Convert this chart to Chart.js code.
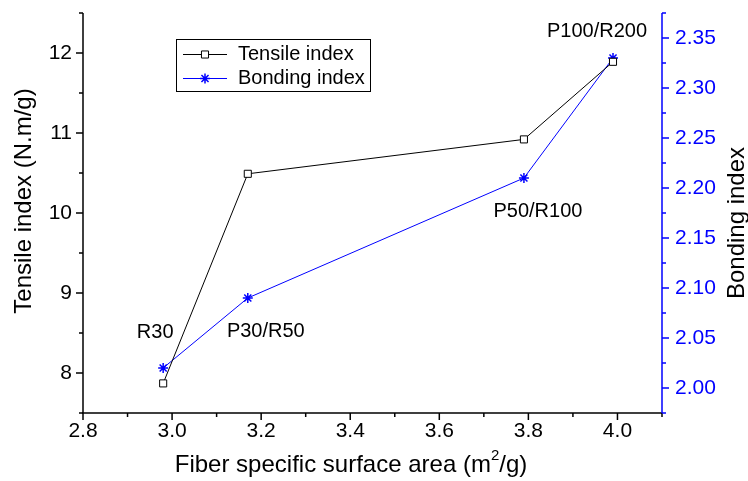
<!DOCTYPE html>
<html><head><meta charset="utf-8">
<script src="https://cdn.jsdelivr.net/npm/chart.js@4"></script>
<style>html,body{margin:0;padding:0;background:#fff}</style>
</head><body>
<canvas id="c" width="748" height="481"></canvas>
<script>
// ---- data ----
const surfaceArea   = [2.98, 3.17, 3.79, 3.99];
const tensileIndex  = [7.87, 10.49, 10.92, 11.89];
const bondingIndex  = [2.02, 2.09, 2.21, 2.33];
const pointLabels   = ['R30', 'P30/R50', 'P50/R100', 'P100/R200'];
const seriesNames   = ['Tensile index', 'Bonding index'];
const xTickLabels     = ['2.8', '3.0', '3.2', '3.4', '3.6', '3.8', '4.0'];
const leftTickLabels  = ['8', '9', '10', '11', '12'];
const rightTickLabels = ['2.00', '2.05', '2.10', '2.15', '2.20', '2.25', '2.30', '2.35'];
const xTitle = ['Fiber specific surface area (m', '2', '/g)'];
const leftTitle = 'Tensile index (N.m/g)';
const rightTitle = 'Bonding index';

// ---- styling (not data) ----
const FONT = "'Liberation Sans', Arial, sans-serif";
const BLUE = '#0000ff';
const labelOffsets = [   // [dataset, dx, dy] relative to a point
  [1, -8, -36], [1, 18, 33], [1, 14, 33], [0, -16, -30]
];

function setTicks(labels) {
  return function (scale) {
    scale.ticks = labels.map(l => ({ value: parseFloat(l) }));
  };
}
function fitter(prop, size) {
  return function (s) {
    s[prop] = size;
    s.paddingTop = 0; s.paddingBottom = 0; s.paddingLeft = 0; s.paddingRight = 0;
  };
}

const decor = {
  id: 'decor',
  afterDraw(chart) {
    const ctx = chart.ctx;
    const a = chart.chartArea;
    const sx = chart.scales.x, sy = chart.scales.y, sy1 = chart.scales.y1;
    const MAJ = 7, MIN = 4;
    ctx.save();
    ctx.lineWidth = 1.5;
    ctx.strokeStyle = '#000';
    ctx.beginPath();
    ctx.moveTo(a.left, a.top); ctx.lineTo(a.left, a.bottom);
    ctx.moveTo(a.left - 1, a.bottom); ctx.lineTo(a.right, a.bottom);
    ctx.stroke();
    const drawTicksV = (scale, labels, x, dir) => {
      const vals = labels.map(parseFloat);
      const step = vals[1] - vals[0];
      ctx.beginPath();
      vals.forEach(v => {
        const p = scale.getPixelForValue(v);
        ctx.moveTo(x, p); ctx.lineTo(x + dir * MAJ, p);
      });
      const minors = [vals[0] - step / 2].concat(vals.map(v => v + step / 2));
      minors.forEach(v => {
        const p = scale.getPixelForValue(v);
        ctx.moveTo(x, p); ctx.lineTo(x + dir * MIN, p);
      });
      ctx.stroke();
    };
    drawTicksV(sy, leftTickLabels, a.left, -1);
    {
      const vals = xTickLabels.map(parseFloat);
      const step = vals[1] - vals[0];
      ctx.beginPath();
      vals.forEach(v => {
        const p = sx.getPixelForValue(v);
        ctx.moveTo(p, a.bottom); ctx.lineTo(p, a.bottom + MAJ);
      });
      vals.map(v => v + step / 2).forEach(v => {
        const p = sx.getPixelForValue(v);
        ctx.moveTo(p, a.bottom); ctx.lineTo(p, a.bottom + MIN);
      });
      ctx.stroke();
    }
    ctx.strokeStyle = BLUE;
    ctx.beginPath();
    ctx.moveTo(a.right, a.top); ctx.lineTo(a.right, a.bottom);
    ctx.stroke();
    drawTicksV(sy1, rightTickLabels, a.right, 1);

    // titles
    const TF = '24px ' + FONT, SF = '15px ' + FONT;
    ctx.fillStyle = '#000';
    ctx.textBaseline = 'middle';
    ctx.textAlign = 'left';
    ctx.font = TF;
    const w0 = ctx.measureText(xTitle[0]).width;
    const w2 = ctx.measureText(xTitle[2]).width;
    ctx.font = SF;
    const w1 = ctx.measureText(xTitle[1]).width;
    const tx = 351 - (w0 + w1 + w2) / 2;
    const ty = 465;
    ctx.font = TF;
    ctx.fillText(xTitle[0], tx, ty);
    ctx.fillText(xTitle[2], tx + w0 + w1, ty);
    ctx.font = SF;
    ctx.fillText(xTitle[1], tx + w0, ty - 9);

    ctx.font = TF;
    ctx.textAlign = 'center';
    ctx.save();
    ctx.translate(24, 201); ctx.rotate(-Math.PI / 2);
    ctx.fillText(leftTitle, 0, 0);
    ctx.restore();
    ctx.save();
    ctx.translate(737, 223); ctx.rotate(-Math.PI / 2);
    ctx.fillText(rightTitle, 0, 0);
    ctx.restore();

    // point annotations
    ctx.font = '20px ' + FONT;
    labelOffsets.forEach(([ds, dx, dy], i) => {
      const el = chart.getDatasetMeta(ds).data[i];
      ctx.fillText(pointLabels[i], el.x + dx, el.y + dy);
    });

    // legend
    ctx.lineWidth = 1;
    ctx.strokeStyle = '#000';
    ctx.strokeRect(176.5, 39.5, 194, 52);
    ctx.font = '20px ' + FONT;
    ctx.textAlign = 'left';
    const rows = [54, 78];
    chart.data.datasets.forEach((d, i) => {
      const y = rows[i];
      ctx.strokeStyle = d.borderColor;
      ctx.lineWidth = 1;
      ctx.beginPath(); ctx.moveTo(183, y + 0.5); ctx.lineTo(227, y + 0.5); ctx.stroke();
      ctx.fillStyle = d.pointBackgroundColor;
      ctx.strokeStyle = d.pointBorderColor;
      ctx.lineWidth = d.pointBorderWidth;
      Chart.helpers.drawPoint(ctx, {
        pointStyle: d.pointStyle, radius: d.pointRadius, rotation: 0,
        borderWidth: d.pointBorderWidth
      }, 205, y + 0.5);
      ctx.fillStyle = '#000';
      ctx.fillText(seriesNames[i], 238, y);
    });
    ctx.restore();
  }
};

new Chart(document.getElementById('c'), {
  type: 'scatter',
  data: {
    datasets: [
      {
        label: seriesNames[0],
        data: surfaceArea.map((x, i) => ({ x, y: tensileIndex[i] })),
        showLine: true, borderColor: '#000', borderWidth: 1,
        pointStyle: 'rect', pointRadius: 5, pointBorderWidth: 1,
        pointBackgroundColor: '#fff', pointBorderColor: '#000',
        yAxisID: 'y'
      },
      {
        label: seriesNames[1],
        data: surfaceArea.map((x, i) => ({ x, y: bondingIndex[i] })),
        showLine: true, borderColor: BLUE, borderWidth: 1,
        pointStyle: 'star', pointRadius: 5, pointBorderWidth: 1.5,
        pointBackgroundColor: BLUE, pointBorderColor: BLUE,
        yAxisID: 'y1'
      }
    ]
  },
  options: {
    responsive: false, animation: false, devicePixelRatio: 1,
    layout: { padding: { top: 13, left: 0, right: 0, bottom: 0 } },
    plugins: { legend: { display: false }, tooltip: { enabled: false } },
    scales: {
      x: {
        type: 'linear', position: 'bottom', min: 2.8, max: 4.1,
        afterBuildTicks: setTicks(xTickLabels),
        afterFit: fitter('height', 68),
        grid: { display: false, drawTicks: false }, border: { display: false },
        ticks: { autoSkip: false, maxRotation: 0, padding: 6, color: '#000',
                 font: { family: FONT, size: 21 },
                 callback: (v, i) => xTickLabels[i] }
      },
      y: {
        type: 'linear', position: 'left', min: 7.5, max: 12.5,
        afterBuildTicks: setTicks(leftTickLabels),
        afterFit: fitter('width', 83),
        grid: { display: false, drawTicks: false }, border: { display: false },
        ticks: { autoSkip: false, padding: 11, color: '#000',
                 font: { family: FONT, size: 21 },
                 callback: (v, i) => leftTickLabels[i] }
      },
      y1: {
        type: 'linear', position: 'right', min: 1.975, max: 2.375,
        afterBuildTicks: setTicks(rightTickLabels),
        afterFit: fitter('width', 86),
        grid: { display: false, drawTicks: false }, border: { display: false },
        ticks: { autoSkip: false, padding: 13, color: BLUE,
                 font: { family: FONT, size: 21 },
                 callback: (v, i) => rightTickLabels[i] }
      }
    }
  },
  plugins: [decor]
});
</script>
</body></html>
